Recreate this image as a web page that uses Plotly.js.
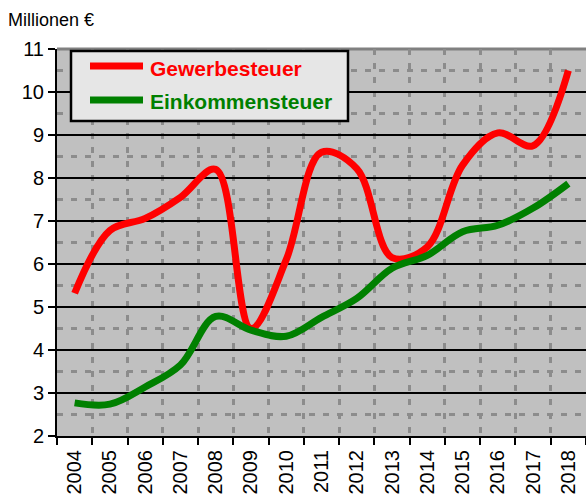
<!DOCTYPE html>
<html><head><meta charset="utf-8">
<script src="https://cdn.plot.ly/plotly-3.0.1.min.js"></script>
<style>html,body{margin:0;padding:0;background:#fff}#c{width:586px;height:500px}</style>
</head><body><div id="c"></div>
<script>
const years = ['2004','2005','2006','2007','2008','2009','2010','2011','2012','2013','2014','2015','2016','2017','2018'];
const gewerbesteuer = [5.32, 6.78, 7.06, 7.55, 8.2, 4.5, 6.1, 8.6, 8.22, 6.15, 6.4, 8.3, 9.05, 8.75, 10.5];
const einkommensteuer = [2.77, 2.74, 3.14, 3.65, 4.78, 4.46, 4.32, 4.76, 5.2, 5.9, 6.2, 6.75, 6.9, 7.3, 7.87];
const seriesNames = ['Gewerbesteuer', 'Einkommensteuer'];
const seriesColors = ['#ff0000', '#008000'];
const yTitle = 'Millionen €';

const font = 'Liberation Sans, Arial, sans-serif';
const L = 57, R = 586, T = 49, B = 436;
const W = R - L, H = B - T;
const px = p => (p - L) / W;
const py = p => (B - p) / H;

const traces = [gewerbesteuer, einkommensteuer].map((v, i) => ({
  x: years, y: v, type: 'scatter', mode: 'lines', name: seriesNames[i],
  line: {color: seriesColors[i], width: 7, shape: 'spline', smoothing: 1},
  showlegend: false, hoverinfo: 'skip'
}));

const legendY = [66, 100];
const shapes = [
  {type: 'line', xref: 'paper', yref: 'paper', x0: 0, x1: 1, y0: 1, y1: 1, line: {color: '#808080', width: 3}, layer: 'between'},
  {type: 'rect', xref: 'paper', yref: 'paper', x0: px(71), x1: px(348), y0: py(121), y1: py(51), fillcolor: '#e6e6e6', line: {color: '#000', width: 2.5}, layer: 'above'}
];
const annotations = [];
seriesNames.forEach((n, i) => {
  shapes.push({type: 'line', xref: 'paper', yref: 'paper', x0: px(90), x1: px(143), y0: py(legendY[i]), y1: py(legendY[i]), line: {color: seriesColors[i], width: 7}, layer: 'above'});
  annotations.push({xref: 'paper', yref: 'paper', x: px(148), y: py(legendY[i] + 2), xanchor: 'left', yanchor: 'middle', showarrow: false,
    text: '<b>' + n + '</b>', font: {family: font, size: 21, color: seriesColors[i]}});
});

const layout = {
  width: 586, height: 500,
  margin: {l: L, r: 586 - R, t: T, b: 500 - B, pad: 0},
  paper_bgcolor: '#ffffff', plot_bgcolor: '#c0c0c0',
  font: {family: font, size: 20, color: '#000'},
  title: {text: yTitle, x: 8 / 586, xanchor: 'left', xref: 'container', y: 1 - 20 / 500, yanchor: 'middle', font: {family: font, size: 18, color: '#000'}},
  xaxis: {
    type: 'category', range: [-0.5, 14.5], tickson: 'boundaries',
    ticks: 'outside', ticklen: 7, tickwidth: 2, tickcolor: '#000',
    showline: true, linecolor: '#000', linewidth: 2,
    showgrid: true, gridcolor: '#8c8c8c', gridwidth: 3, griddash: '6px,8px',
    tickangle: -90, ticklabelstandoff: 4, tickfont: {family: font, size: 20, color: '#000'}, fixedrange: true
  },
  yaxis: {
    range: [2, 11], dtick: 1, tick0: 2,
    ticks: 'outside', ticklen: 7, tickwidth: 2, tickcolor: '#000',
    showline: true, linecolor: '#000', linewidth: 2,
    showgrid: true, gridcolor: '#000', gridwidth: 2, zeroline: false,
    minor: {dtick: 0.5, showgrid: true, gridcolor: '#8c8c8c', gridwidth: 3, griddash: '6px,8px', ticks: ''},
    tickfont: {family: font, size: 20, color: '#000'}, fixedrange: true
  },
  shapes: shapes,
  annotations: annotations,
  showlegend: false
};

Plotly.newPlot('c', traces, layout, {displayModeBar: false, staticPlot: true});
</script>
</body></html>
